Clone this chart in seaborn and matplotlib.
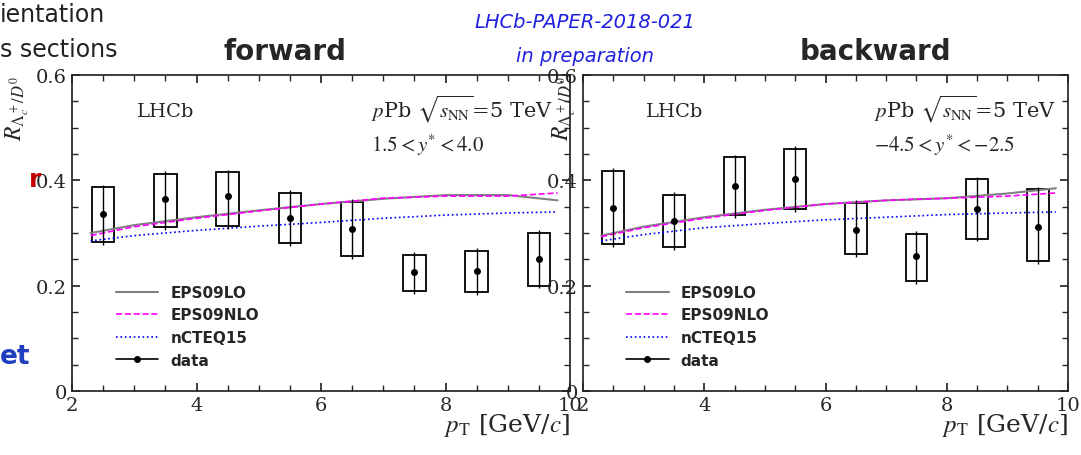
import numpy as np
import matplotlib.pyplot as plt
import seaborn as sns
from matplotlib.patches import Rectangle
from matplotlib.lines import Line2D

sns.set_theme(style="ticks")
plt.rcParams['font.family'] = ['DejaVu Sans']
plt.rcParams['mathtext.fontset'] = 'stix'

pt_bins = [2.5, 3.5, 4.5, 5.5, 6.5, 7.5, 8.5, 9.5]

# forward
fwd_val = [0.336, 0.365, 0.370, 0.328, 0.308, 0.226, 0.228, 0.250]
fwd_hi = [0.387, 0.412, 0.415, 0.376, 0.359, 0.258, 0.266, 0.300]
fwd_lo = [0.283, 0.311, 0.313, 0.281, 0.256, 0.190, 0.188, 0.200]
# backward
bwd_val = [0.347, 0.323, 0.389, 0.402, 0.306, 0.256, 0.346, 0.311]
bwd_hi = [0.418, 0.372, 0.444, 0.460, 0.357, 0.298, 0.402, 0.383]
bwd_lo = [0.279, 0.273, 0.334, 0.345, 0.260, 0.209, 0.289, 0.247]

curve_x = [2.3, 3, 4, 5, 6, 7, 8, 9, 9.8]
fwd_lo_c = [0.300, 0.315, 0.330, 0.343, 0.355, 0.365, 0.372, 0.372, 0.362]
fwd_nlo_c = [0.295, 0.312, 0.328, 0.342, 0.355, 0.366, 0.370, 0.370, 0.376]
fwd_ncteq = [0.285, 0.295, 0.305, 0.313, 0.320, 0.328, 0.334, 0.338, 0.340]
bwd_lo_c = [0.295, 0.312, 0.330, 0.344, 0.355, 0.362, 0.366, 0.375, 0.385]
bwd_nlo_c = [0.293, 0.310, 0.328, 0.343, 0.355, 0.362, 0.366, 0.370, 0.376]
bwd_ncteq = [0.285, 0.297, 0.310, 0.318, 0.325, 0.330, 0.335, 0.338, 0.340]

fig = plt.figure(figsize=(10.81, 4.56), dpi=100)
ax1 = fig.add_axes([72/1081, 64/456, 498/1081, 316/456])
ax2 = fig.add_axes([583/1081, 64/456, 485/1081, 316/456])

def panel(ax, val, hi, lo, clo, cnlo, cnc, ytxt):
    sns.lineplot(x=curve_x, y=clo, ax=ax, color='gray', lw=1.5, label='EPS09LO')
    sns.lineplot(x=curve_x, y=cnlo, ax=ax, color='magenta', lw=1.2, ls='--', label='EPS09NLO')
    sns.lineplot(x=curve_x, y=cnc, ax=ax, color='blue', lw=1.2, ls=':', label='nCTEQ15')
    for x, h, l in zip(pt_bins, hi, lo):
        ax.add_patch(Rectangle((x - 0.18, l), 0.36, h - l, fill=False, ec='black', lw=1.3))
    ax.errorbar(pt_bins, val, yerr=[np.array(val) - np.array(lo) + 0.005,
                                    np.array(hi) - np.array(val) + 0.005],
                fmt='o', color='black', ms=4, lw=1)
    ax.set_xlim(2, 10)
    ax.set_ylim(0, 0.6)
    ax.set_xticks([2, 4, 6, 8, 10])
    ax.set_yticks([0, 0.2, 0.4, 0.6])
    ax.set_yticklabels(['0', '0.2', '0.4', '0.6'])
    ax.tick_params(direction='in', top=True, right=True, labelsize=14)
    for t in ax.get_xticklabels() + ax.get_yticklabels():
        t.set_family('serif')
    ax.minorticks_on()
    ax.tick_params(which='minor', direction='in', top=True, right=True)
    ax.text(0.13, 0.87, 'LHCb', transform=ax.transAxes, fontsize=14, family='serif')
    ax.text(0.6, 0.87, r'$p$Pb $\sqrt{s_{\rm NN}}$=5 TeV', transform=ax.transAxes,
            fontsize=15, family='serif')
    ax.text(0.6, 0.76, ytxt, transform=ax.transAxes, fontsize=15, family='serif')
    ax.set_xlabel(r'$p_{\rm T}$ [GeV/$c$]', fontsize=18, family='serif', loc='right', labelpad=-2)
    h, lab = ax.get_legend_handles_labels()
    h.append(Line2D([], [], color='black', marker='o', ms=4, lw=1.2))
    lab.append('data')
    ax.legend(h, lab, loc='lower left', bbox_to_anchor=(0.06, 0.03), frameon=False,
              prop={'weight': 'bold', 'size': 11}, handlelength=2.8)

panel(ax1, fwd_val, fwd_hi, fwd_lo, fwd_lo_c, fwd_nlo_c, fwd_ncteq, r'$1.5 < y^{*} < 4.0$')
panel(ax2, bwd_val, bwd_hi, bwd_lo, bwd_lo_c, bwd_nlo_c, bwd_ncteq, r'$-4.5 < y^{*} < -2.5$')
ax1.set_ylabel(r'$R_{\Lambda_c^+/D^0}$', fontsize=17, loc='top')
ax2.set_ylabel(r'$R_{\Lambda_c^+/D^0}$', fontsize=17, loc='top', labelpad=-22)

fig.text(285/1081, 1 - 52/456, 'forward', fontsize=20, weight='bold', ha='center', va='center')
fig.text(875/1081, 1 - 52/456, 'backward', fontsize=20, weight='bold', ha='center', va='center')
fig.text(585/1081, 1 - 22/456, 'LHCb-PAPER-2018-021', fontsize=14, style='italic',
         color='#2020e0', ha='center', va='center')
fig.text(585/1081, 1 - 57/456, 'in preparation', fontsize=14, style='italic',
         color='#2020e0', ha='center', va='center')
fig.text(0.0, 1 - 15/456, 'ientation', fontsize=17, va='center', color='#222222')
fig.text(0.0, 1 - 50/456, 's sections', fontsize=17, va='center', color='#222222')
fig.text(0.027, 1 - 180/456, 'r', fontsize=18, va='center', color='#c00000', weight='bold')
fig.text(0.0, 1 - 357/456, 'et', fontsize=19, va='center', color='#1f3fbf', weight='bold')

fig.savefig('out.png', dpi=100)
